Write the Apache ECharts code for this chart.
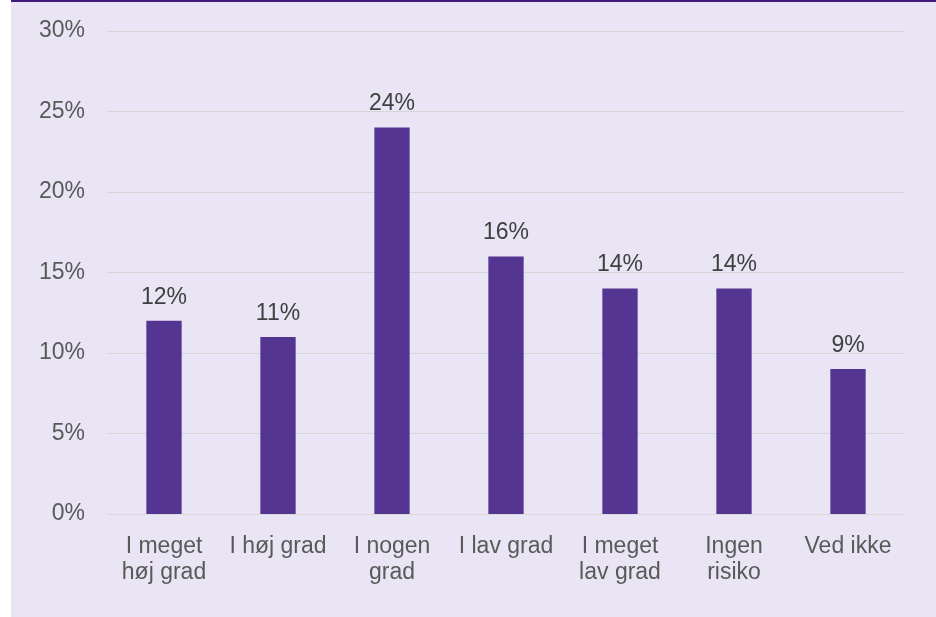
<!DOCTYPE html>
<html>
<head>
<meta charset="utf-8">
<script src="https://cdn.jsdelivr.net/npm/echarts@6/dist/echarts.min.js"></script>
<style>
html,body{margin:0;padding:0;background:#fff;}
#chart{width:936px;height:617px;}
</style>
</head>
<body>
<div id="chart"></div>
<script>
const categories = ["I meget\nhøj grad", "I høj grad", "I nogen\ngrad", "I lav grad", "I meget\nlav grad", "Ingen\nrisiko", "Ved ikke"];
const values = [12, 11, 24, 16, 14, 14, 9];
const yTicks = [0, 5, 10, 15, 20, 25, 30];

const FONT = '"Liberation Sans", Arial, sans-serif';
const chart = echarts.init(document.getElementById('chart'));
chart.setOption({
  backgroundColor: '#ffffff',
  animation: false,
  graphic: [
    { type: 'rect', left: 11, top: 0, shape: { width: 925, height: 617 }, style: { fill: '#E9E5F5' }, z: -10 },
    { type: 'rect', left: 11, top: 0, shape: { width: 925, height: 2 }, style: { fill: '#3F1D78' }, z: -9 }
  ],
  grid: { left: 107, right: 31, top: 31, bottom: 103 },
  xAxis: {
    type: 'category',
    data: categories,
    axisLine: { show: true, lineStyle: { color: '#D9D9D9', width: 1 } },
    axisTick: { show: false },
    axisLabel: { color: '#595959', fontSize: 23, fontFamily: FONT, lineHeight: 26, margin: 20, interval: 0 }
  },
  yAxis: {
    type: 'value',
    min: yTicks[0],
    max: yTicks[yTicks.length - 1],
    interval: 5,
    axisLine: { show: false },
    axisTick: { show: false },
    splitLine: { lineStyle: { color: '#D6D6D6', width: 1 } },
    axisLabel: { color: '#595959', fontSize: 23, fontFamily: FONT, margin: 22, formatter: v => v + '%' }
  },
  series: [{
    type: 'bar',
    data: values,
    barWidth: '31%',
    itemStyle: { color: '#553592' },
    label: { show: true, position: 'top', distance: 12, color: '#404040', fontSize: 23, fontFamily: FONT, formatter: p => p.value + '%' }
  }]
});
</script>
</body>
</html>
